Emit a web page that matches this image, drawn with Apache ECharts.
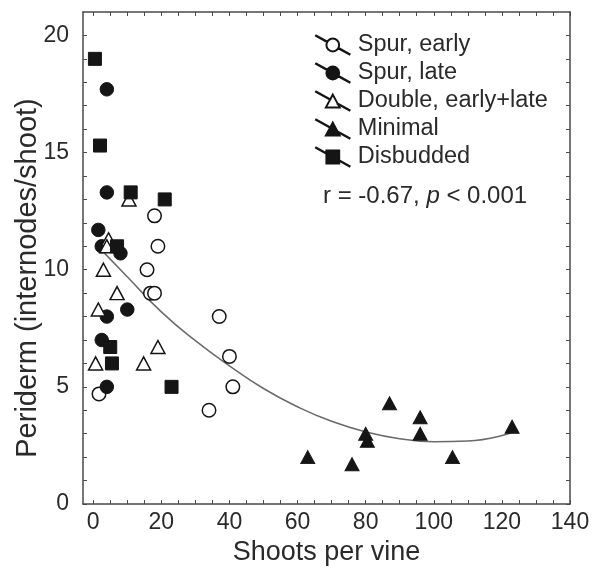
<!DOCTYPE html>
<html>
<head>
<meta charset="utf-8">
<script src="https://cdn.jsdelivr.net/npm/echarts@6/dist/echarts.min.js"></script>
<style>
html,body{margin:0;padding:0;background:#fff;}
#chart{width:592px;height:573px;}
</style>
</head>
<body>
<div id="chart"></div>
<script>
// ---- data ----
const spurEarly = [[1.7,4.7],[18,12.3],[19,11],[15.8,10],[16.8,9],[18,9],[37,8],[40,6.3],[41,5],[34,4]];
const spurLate = [[4,17.7],[4,13.3],[1.5,11.7],[2.5,11],[8,10.7],[4,8],[10,8.3],[2.5,7],[4,5]];
const doubleEL = [[10.5,13],[4.5,11.3],[4,11],[3,10],[7,9],[1.5,8.3],[19,6.7],[0.7,6],[14.8,6]];
const minimal = [[63,2],[76,1.7],[80,3],[80.5,2.7],[87,4.3],[96,3.7],[96,3],[105.5,2],[123,3.3]];
const disbudded = [[0.5,19],[2,15.3],[11,13.3],[21,13],[7,11],[5,6.7],[5.5,6],[23,5]];
// fitted curve, points
const curveX = [3,10,20,30,40,50,60,70,80,90,100,110,123];
const curveY = [10.75,9.7,8.2,6.97,5.9,4.93,4.15,3.53,3.08,2.79,2.66,2.69,3.05];
// axes
const xTickLabels = [0,20,40,60,80,100,120,140];
const xTicks = [0,5,10,15,20,25,30,35,40,45,50,55,60,65,70,75,80,85,90,95,100,105,110,115,120,125,130,135,140];
const yTickLabels = [0,5,10,15,20];
const yTicks = [0,1,2,3,4,5,6,7,8,9,10,11,12,13,14,15,16,17,18,19,20];
const seriesNames = ['Spur, early','Spur, late','Double, early+late','Minimal','Disbudded'];
const annotation = ['r = -0.67, ', 'p', ' < 0.001'];

const FONT = "'Liberation Sans', Arial, sans-serif";
const INK = '#151515';
const AX = '#4a4a4a';
const TXT = '#2a2a2a';

// legend icons: diagonal line with marker in the middle (34 x 19 box)
const lineA = 'M-0.1 0.17 L11.23 6.5 L11.43 6.16 L0.1 -0.17 Z ';
const lineB = 'M22.57 12.84 L33.9 19.17 L34.1 18.83 L22.77 12.5 Z ';
const iconCircle = 'path://' + lineA + lineB + 'M23.5 9.5 A6.5 6.5 0 1 1 10.5 9.5 A6.5 6.5 0 1 1 23.5 9.5 Z';
const iconTri = 'path://M-0.1 0.17 L14.21 8.17 L14.41 7.83 L0.1 -0.17 Z M21.9 12.47 L33.9 19.17 L34.1 18.83 L22.1 12.13 Z M17 3 L24 16 L10 16 Z';
const iconRect = 'path://M-0.1 0.17 L10.4 6.04 L10.6 5.7 L0.1 -0.17 Z M23.4 13.3 L33.9 19.17 L34.1 18.83 L23.6 12.96 Z M10.5 3 L23.5 3 L23.5 16 L10.5 16 Z';
const legendIcons = [iconCircle, iconCircle, iconTri, iconTri, iconRect];

const openStyle = {color:'#ffffff', borderColor:INK, borderWidth:1.5, opacity:1};
const fillStyle = {color:INK, borderColor:INK, borderWidth:1, opacity:1};

function scatter(name, data, symbol, size, style){
  return {name, type:'scatter', data, symbol, symbolSize:size, itemStyle:style, z:3};
}

const axisBase = {
  type:'value',
  splitLine:{show:false},
  axisLine:{show:true, onZero:false, lineStyle:{color:AX, width:1.5}},
};

const chart = echarts.init(document.getElementById('chart'), null, {renderer:'canvas'});
chart.setOption({
  animation:false,
  backgroundColor:'#fff',
  grid:{left:83, right:22, top:12, bottom:69, containLabel:false, outerBoundsMode:'none'},
  xAxis:[
    Object.assign({}, axisBase, {
      min:-3, max:140, position:'bottom',
      axisTick:{show:true, inside:true, length:4, customValues:xTicks, lineStyle:{color:AX, width:1}},
      axisLabel:{customValues:xTickLabels, fontSize:23, color:TXT, fontFamily:FONT, margin:7},
      name:'Shoots per vine', nameLocation:'middle', nameGap:35, nameMoveOverlap:false,
      nameTextStyle:{fontSize:27, color:TXT, fontFamily:FONT}
    }),
    Object.assign({}, axisBase, {
      min:-3, max:140, position:'top',
      axisTick:{show:true, inside:true, length:4, customValues:xTicks, lineStyle:{color:AX, width:1}},
      axisLabel:{show:false}
    })
  ],
  yAxis:[
    Object.assign({}, axisBase, {
      min:0, max:21, position:'left',
      axisTick:{show:true, inside:true, length:4, customValues:yTicks, lineStyle:{color:AX, width:1}},
      axisLabel:{customValues:yTickLabels, fontSize:23, color:TXT, fontFamily:FONT, margin:14},
      name:'Periderm (internodes/shoot)', nameLocation:'middle', nameGap:41, nameMoveOverlap:false,
      nameTextStyle:{fontSize:29, color:TXT, fontFamily:FONT, padding:[0,40,0,0]}
    }),
    Object.assign({}, axisBase, {
      min:0, max:21, position:'right',
      axisTick:{show:true, inside:true, length:4, customValues:yTicks, lineStyle:{color:AX, width:1}},
      axisLabel:{show:false}
    })
  ],
  legend:{
    orient:'vertical', left:310, top:28, itemWidth:34, itemHeight:19, itemGap:4,
    data:seriesNames.map((n,i)=>({name:n, icon:legendIcons[i]})),
    textStyle:{fontSize:23.5, color:TXT, fontFamily:FONT, padding:[0,0,0,3]},
    selectedMode:false
  },
  graphic:[{
    type:'text', left:323, top:184, z:10,
    style:{
      text:'{a|'+annotation[0]+'}{i|'+annotation[1]+'}{a|'+annotation[2]+'}',
      rich:{
        a:{fontSize:24, fontFamily:FONT, fill:TXT},
        i:{fontSize:24, fontFamily:FONT, fontStyle:'italic', fill:TXT}
      }
    }
  }],
  series:[
    {type:'line', data:curveX.map((x,i)=>[x,curveY[i]]), smooth:true, showSymbol:false,
     lineStyle:{color:'#6a6a6a', width:1.5}, z:2, silent:true},
    scatter(seriesNames[0], spurEarly, 'circle', 13.5, openStyle),
    scatter(seriesNames[1], spurLate, 'circle', 13.5, fillStyle),
    scatter(seriesNames[2], doubleEL, 'triangle', [14,13], openStyle),
    scatter(seriesNames[3], minimal, 'triangle', [14,13], fillStyle),
    scatter(seriesNames[4], disbudded, 'rect', 13, fillStyle)
  ]
});
</script>
</body>
</html>
